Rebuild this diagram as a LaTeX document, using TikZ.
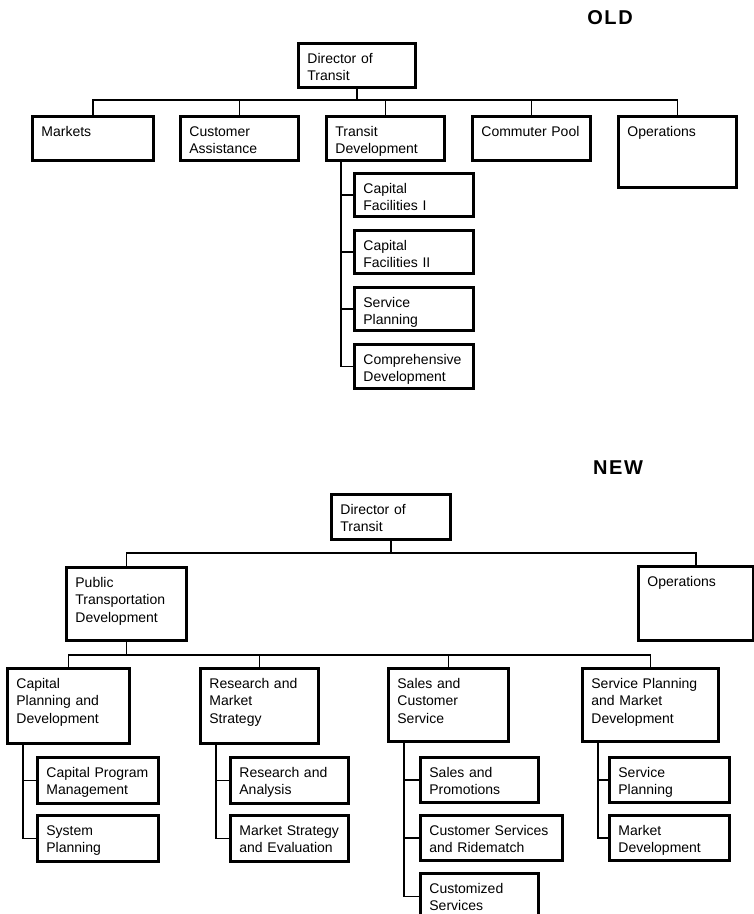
\documentclass[tikz,border=0pt]{standalone}
\usepackage{fontspec}
\setmainfont{Liberation Sans}
\newfontfamily\headfont[LetterSpace=8]{Liberation Sans}
\hyphenpenalty=10000
\begin{document}
\begin{tikzpicture}[x=1pt,y=-1pt,
  unit/.style 2 args={draw, line width=2.8pt, anchor=north west, align=left,
    inner xsep=9pt, inner ysep=0pt, text width=#1-18pt,
    text height=20pt, text depth=#2-20pt,
    font=\fontsize{14}{17.5}\selectfont},
  link/.style={line width=1.7pt},
  head/.style={font=\headfont\bfseries\fontsize{20}{24}\selectfont}]
\useasboundingbox (0,0) rectangle (754,914);
\node [head] (old) at (610,18) {OLD};
\node [unit={117pt}{44pt}] (odir) at (297,42) {Director of\\Transit};
\node [unit={121pt}{44pt}] (omkt) at (31,115) {Markets};
\node [unit={118pt}{44pt}] (ocus) at (179,115) {Customer\\Assistance};
\node [unit={118pt}{44pt}] (otdv) at (325,115) {Transit\\Development};
\node [unit={118pt}{44pt}] (ocom) at (471,115) {Commuter Pool};
\node [unit={118pt}{71pt}] (oops) at (617,115) {Operations};
\node [unit={119pt}{43pt}] (ocf1) at (353,172) {Capital\\Facilities I};
\node [unit={119pt}{43pt}] (ocf2) at (353,229) {Capital\\Facilities II};
\node [unit={119pt}{43pt}] (ospl) at (353,286) {Service\\Planning};
\node [unit={119pt}{44pt}] (ocdv) at (353,343) {Comprehensive\\Development};
\coordinate (obus) at (0,100);
\draw [link] (odir.south) -- (odir.south |- obus);
\draw [link] (omkt.north) |- (oops.north |- obus) -- (oops.north);
\foreach \n in {ocus,otdv,ocom}
  \draw [link] (\n.north) -- (\n.north |- obus);
\draw [link] ([xshift=16pt]otdv.south west) |- (ocdv.west);
\foreach \n in {ocf1,ocf2,ospl}
  \draw [link] (\n.west) -- ([xshift=16pt]otdv.south west |- \n.west);
\node [head] (new) at (618,468) {NEW};
\node [unit={119pt}{45pt}] (ndir) at (330,493) {Director of\\Transit};
\node [unit={120pt}{73pt}] (nptd) at (65,566) {Public\\Transportation\\Development};
\node [unit={115pt}{74pt}] (nops) at (637,565) {Operations};
\node [unit={122pt}{75pt}] (ncpd) at (6,667) {Capital\\Planning and\\Development};
\node [unit={118pt}{75pt}] (nrms) at (199,667) {Research and\\Market\\Strategy};
\node [unit={120pt}{73pt}] (nscs) at (387,667) {Sales and\\Customer\\Service};
\node [unit={136pt}{73pt}] (nspm) at (581,667) {Service Planning\\and Market\\Development};
\node [unit={121pt}{46pt}] (ncpm) at (36,756) {Capital Program\\Management};
\node [unit={121pt}{46pt}] (nsyp) at (36,814) {System\\Planning};
\node [unit={118pt}{46pt}] (nran) at (229,756) {Research and\\Analysis};
\node [unit={118pt}{46pt}] (nmse) at (229,814) {Market Strategy\\and Evaluation};
\node [unit={118pt}{45pt}] (nsap) at (419,756) {Sales and\\Promotions};
\node [unit={142pt}{45pt}] (ncsr) at (419,814) {Customer Services\\and Ridematch};
\node [unit={118pt}{46pt}] (ncus) at (419,872) {Customized\\Services};
\node [unit={120pt}{45pt}] (nsvp) at (608,756) {Service\\Planning};
\node [unit={120pt}{45pt}] (nmkd) at (608,814) {Market\\Development};
\coordinate (nbus) at (0,553);
\coordinate (nsub) at (0,655);
\draw [link] (ndir.south) -- (ndir.south |- nbus);
\draw [link] (nptd.north) |- (nops.north |- nbus) -- (nops.north);
\draw [link] (nptd.south) -- (nptd.south |- nsub);
\draw [link] (ncpd.north) |- (nspm.north |- nsub) -- (nspm.north);
\foreach \n in {nrms,nscs}
  \draw [link] (\n.north) -- (\n.north |- nsub);
\foreach \p/\n in {ncpd/nsyp,nrms/nmse,nscs/ncus,nspm/nmkd}
  \draw [link] ([xshift=17pt]\p.south west) |- (\n.west);
\foreach \p/\n in {ncpd/ncpm,nrms/nran,nscs/nsap,nscs/ncsr,nspm/nsvp}
  \draw [link] (\n.west) -- ([xshift=17pt]\p.south west |- \n.west);
\end{tikzpicture}
\end{document}
